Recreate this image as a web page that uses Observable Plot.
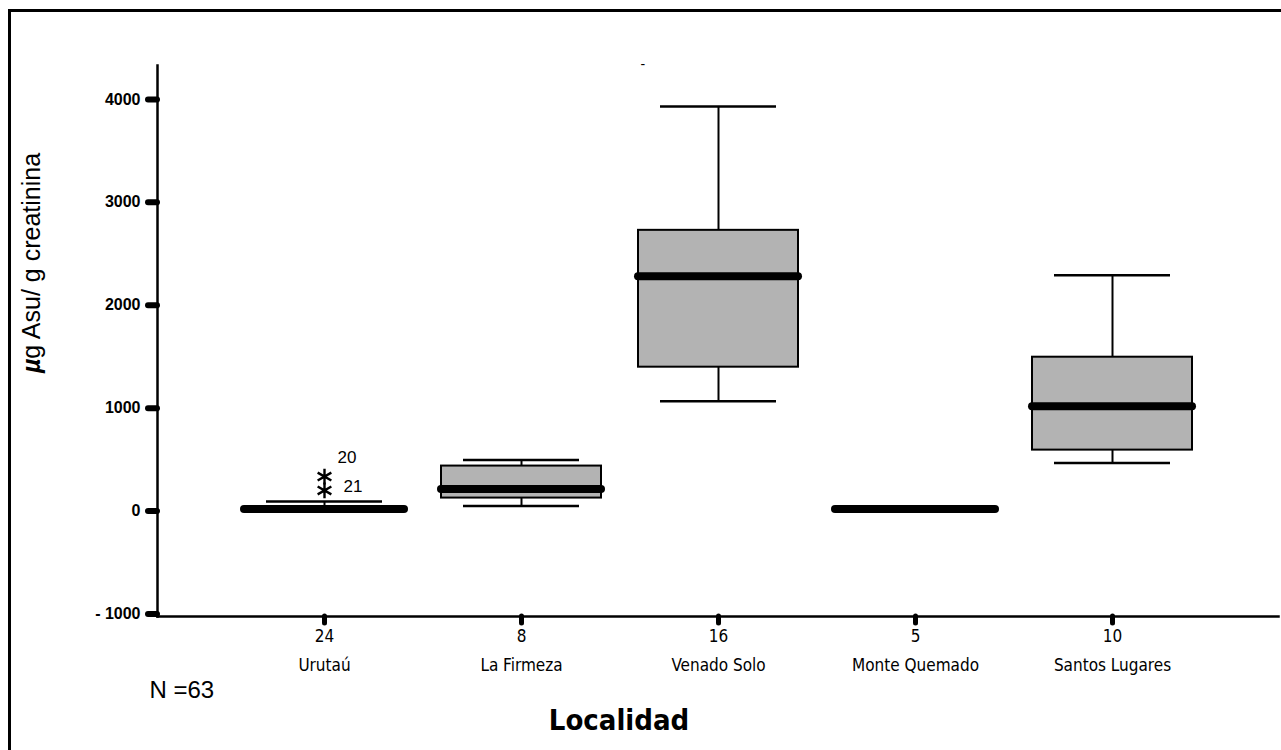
<!DOCTYPE html>
<html>
<head>
<meta charset="utf-8">
<script src="https://cdn.jsdelivr.net/npm/d3@7"></script>
<script src="https://cdn.jsdelivr.net/npm/@observablehq/plot@0.6"></script>
<style>
  html, body { margin: 0; padding: 0; background: #fff; }
  #wrap { position: relative; width: 1281px; height: 750px; overflow: hidden; }
  #border { position: absolute; left: 8px; top: 9px; right: 0; bottom: 0; border-top: 3px solid #000; border-left: 3px solid #000; }
  #chart { position: absolute; left: 0; top: 0; }
</style>
</head>
<body>
<div id="wrap"><div id="border"></div><div id="chart"></div></div>
<script>
// ---- data ----
const categories = ["Urutaú", "La Firmeza", "Venado Solo", "Monte Quemado", "Santos Lugares"];
const counts     = [24, 8, 16, 5, 10];
const mins       = [0, 49, 1068, 10, 466];
const q1s        = [10, 126, 1398, 15, 592];
const medians    = [20, 214, 2282, 20, 1019];
const q3s        = [35, 437, 2728, 25, 1495];
const maxs       = [92, 495, 3932, 30, 2291];
const outlierCases      = ["20", "21"];
const outlierValues     = [335, 200];
const outlierCategories = ["Urutaú", "Urutaú"];
const yTicks = [-1000, 0, 1000, 2000, 3000, 4000];
const yLabel = "µg Asu/ g creatinina";
const xLabel = "Localidad";
const totalLabel = "N =63";

const rows = categories.map((c, i) => ({
  cat: c, n: counts[i], min: mins[i], q1: q1s[i], median: medians[i], q3: q3s[i], max: maxs[i]
}));
const outliers = outlierCases.map((k, i) => ({case: k, value: outlierValues[i], cat: outlierCategories[i]}));

const condensed = "'DejaVu Sans Condensed', 'DejaVu Sans', sans-serif";
const sans = "'Liberation Sans', Arial, sans-serif";

const chart = Plot.plot({
  width: 1281,
  height: 750,
  marginLeft: 157,
  marginRight: 3,
  marginTop: 65,
  marginBottom: 134,
  style: {background: "transparent", overflow: "visible"},
  x: {type: "band", domain: categories, paddingInner: 0.19, paddingOuter: 0.426, axis: null},
  y: {domain: [-1025, 4330], axis: null},
  marks: [
    // axis lines
    Plot.frame({anchor: "left", strokeWidth: 2.5}),
    Plot.frame({anchor: "bottom", strokeWidth: 2.5}),
    // y ticks
    Plot.axisY(yTicks, {
      tickSize: 9, tickPadding: 8, strokeWidth: 6, strokeLinecap: "round",
      tickFormat: d => d < 0 ? "-\u00a0" + Math.abs(d) : String(d),
      fontSize: 16, fontWeight: "bold", fontFamily: sans,
      label: null
    }),
    // x ticks
    Plot.axisX({tickSize: 7, strokeWidth: 5, strokeLinecap: "round", tickFormat: () => "", label: null}),
    // whiskers
    Plot.ruleX(rows, {x: "cat", y1: "q3", y2: "max", strokeWidth: 2}),
    Plot.ruleX(rows, {x: "cat", y1: "min", y2: "q1", strokeWidth: 2}),
    Plot.tickY(rows, {x: "cat", y: "max", strokeWidth: 2.5, inset: 22}),
    Plot.tickY(rows, {x: "cat", y: "min", strokeWidth: 2.5, inset: 22}),
    // boxes
    Plot.barY(rows, {x: "cat", y1: "q1", y2: "q3", fill: "#b3b3b3", stroke: "#000", strokeWidth: 2}),
    // medians
    Plot.tickY(rows, {x: "cat", y: "median", strokeWidth: 8, strokeLinecap: "round"}),
    // outliers
    Plot.dot(outliers, {x: "cat", y: "value", symbol: "asterisk", r: 7.5, stroke: "#000", strokeWidth: 2.4}),
    Plot.text(outliers.filter(d => d.case === "20"), {x: "cat", y: "value", text: "case", textAnchor: "start", dx: 13, dy: -19, fontSize: 17, fontFamily: sans}),
    Plot.text(outliers.filter(d => d.case === "21"), {x: "cat", y: "value", text: "case", textAnchor: "start", dx: 19, dy: -4, fontSize: 17, fontFamily: sans}),
    // x tick labels: counts and names
    Plot.text(rows, {x: "cat", text: d => String(d.n), frameAnchor: "bottom", dy: 25, fontSize: 17, fontFamily: condensed}),
    Plot.text(rows, {x: "cat", text: "cat", frameAnchor: "bottom", dy: 54, fontSize: 17, fontFamily: condensed}),
    // axis titles & notes
    Plot.text([xLabel], {frameAnchor: "bottom", dx: -99, dy: 113, fontSize: 29, fontWeight: "bold", fontFamily: condensed}),
    Plot.text([totalLabel], {frameAnchor: "bottom-left", textAnchor: "start", dx: -8, dy: 81, fontSize: 24, fontFamily: sans}),
    Plot.text([yLabel], {frameAnchor: "left", textAnchor: "middle", rotate: -90, dx: -126, dy: -78, fontSize: 25, fontFamily: sans}),
    Plot.text(["-"], {frameAnchor: "top-left", dx: 483, dy: -6, fontSize: 14, fontFamily: sans})
  ]
});
document.getElementById("chart").appendChild(chart);

// style the µ of the y-axis title as bold italic
chart.querySelectorAll("text").forEach(t => {
  if (t.textContent === yLabel) {
    t.textContent = "";
    const ns = "http://www.w3.org/2000/svg";
    const a = document.createElementNS(ns, "tspan");
    a.setAttribute("font-weight", "bold");
    a.setAttribute("font-style", "italic");
    a.textContent = "µ";
    const b = document.createElementNS(ns, "tspan");
    b.textContent = yLabel.slice(1);
    t.appendChild(a); t.appendChild(b);
  }
});
</script>
</body>
</html>
